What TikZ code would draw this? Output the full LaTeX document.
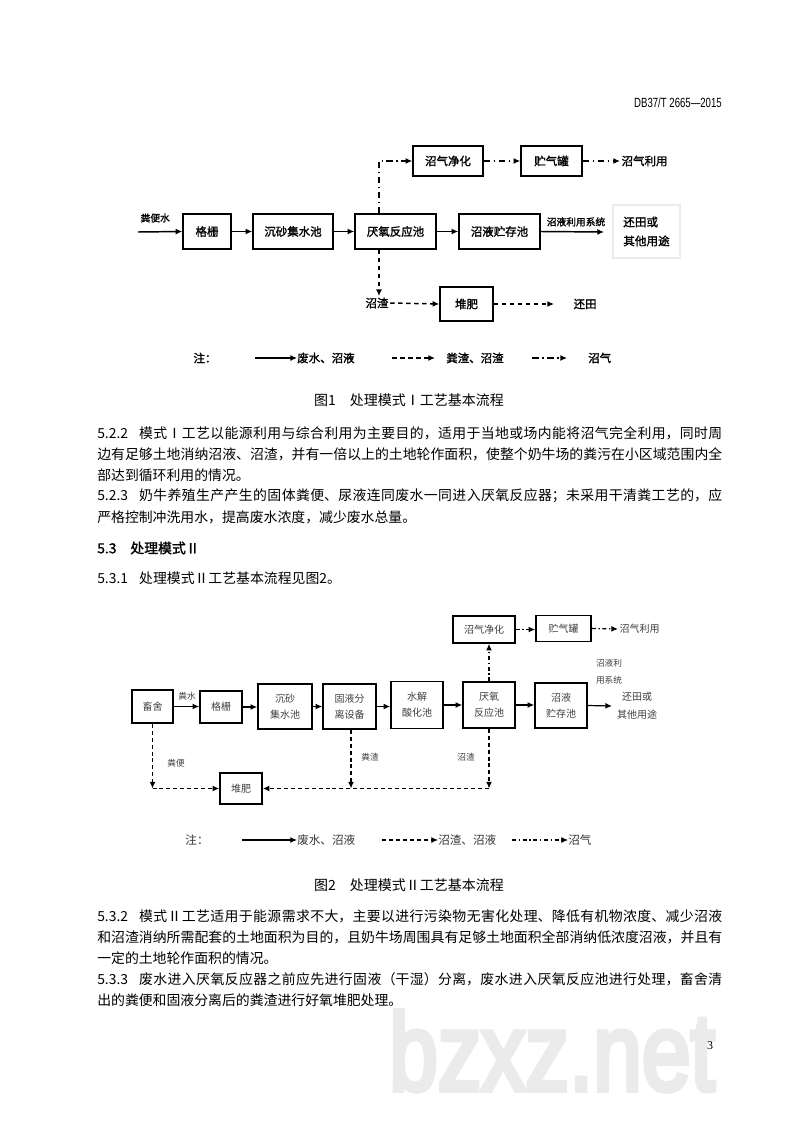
\documentclass[tikz,border=0pt]{standalone}
\usepackage{fontspec}
\setmainfont{Noto Sans CJK SC}
\newfontfamily\cjkb{Noto Sans CJK SC}[FakeBold=1.5]
\newfontfamily\latf{Liberation Sans}
\newfontfamily\wmf{Liberation Sans}[FakeBold=5]
\newfontfamily\serf{Liberation Serif}
\usetikzlibrary{arrows.meta}
\XeTeXlinebreaklocale "zh"
\XeTeXlinebreakskip=0pt plus 3pt minus 0.3pt
\newcommand\fl[1]{\noindent\parfillskip=0pt #1\par}
\definecolor{wm}{gray}{0.92}
\tikzset{
  b1/.style n args={2}{draw, line width=1.1pt, minimum width=#1*0.75pt, minimum height=#2*0.75pt, inner sep=0pt, font=\cjkb\fontsize{8.6}{10}\selectfont},
  b2/.style n args={2}{draw, line width=1.2pt, minimum width=#1*0.75pt, minimum height=#2*0.75pt, inner sep=0pt, align=center, text=black!75, font=\fontsize{7.5}{12}\selectfont},
  t1/.style={inner sep=1pt, font=\cjkb\fontsize{8.6}{10}\selectfont},
  s1/.style={inner sep=1pt, font=\cjkb\fontsize{7.3}{9}\selectfont},
  t2/.style={inner sep=1pt, text=black!75, font=\fontsize{7.5}{12}\selectfont},
  s2/.style={inner sep=1pt, text=black!75, font=\fontsize{6.5}{13}\selectfont},
  lg2/.style={inner sep=1pt, text=black!80, font=\fontsize{8.7}{10}\selectfont},
  wA/.style={line width=1.1pt, -{Latex[length=5pt,width=4.5pt]}},
  dA/.style={wA, dash pattern=on 3.5pt off 2.5pt},
  gA/.style={wA, dash pattern=on 5pt off 2.5pt on 1.2pt off 2.5pt},
  wB/.style={line width=0.9pt, -{Latex[length=5pt,width=4.5pt]}},
  dB/.style={wB, line width=1pt, dash pattern=on 3pt off 2.2pt},
  gB/.style={wB, dash pattern=on 3pt off 2pt on 1pt off 2pt},
  para/.style={anchor=west, text width=468.75pt, inner sep=0pt, align=justify, font=\fontsize{10.4}{12}\selectfont},
  pl/.style={anchor=west, inner sep=0pt, font=\fontsize{10.4}{12}\selectfont},
  figcap/.style={inner sep=0pt, font=\fontsize{10.5}{12}\selectfont}
}
\begin{document}
\begin{tikzpicture}[x=0.75pt,y=-0.75pt]
\useasboundingbox[fill=white] (0,0) rectangle (800,1131);

% watermark and page number
\node[anchor=base, inner sep=0, text=wm] (wmark) at (552,1090) {\scalebox{0.8}[1]{\wmf\fontsize{82}{90}\selectfont bzxz.net}};
\node[inner sep=0] (pageno) at (710,1046) {\serf\fontsize{9}{10}\selectfont 3};

% header
\node[anchor=east, inner sep=0] (hdr) at (722,103) {\scalebox{0.72}[1]{\latf\fontsize{10}{12}\selectfont DB37/T 2665—2015}};

% ---------------- Figure 1 ----------------
\node[b1={48}{35}] (grate) at (207,231.5) {格栅};
\node[b1={80}{35}] (sand) at (293,231.5) {沉砂集水池};
\node[b1={81}{35}] (anA) at (395.5,231.5) {厌氧反应池};
\node[b1={81}{35}] (storeA) at (499.5,231.5) {沼液贮存池};
\node[b1={70}{30}] (puriA) at (448,161) {沼气净化};
\node[b1={61}{30}] (tankA) at (551.5,161) {贮气罐};
\node[t1, anchor=west] (useA) at (620,161) {沼气利用};
\node[draw=black!8, line width=0.8pt, minimum width=67*0.75pt, minimum height=53*0.75pt, inner sep=0pt, align=left, font=\cjkb\fontsize{8.7}{14.25}\selectfont] (outA) at (646.5,231.5) {还田或\\其他用途};
\node[s1, anchor=west] (feedA) at (139,218) {粪便水};
\coordinate (inA) at (138,232);
\draw[wA] (inA) -- (grate.west);
\draw[wA] (grate.east) -- (sand.west);
\draw[wA] (sand.east) -- (anA.west);
\draw[wA] (anA.east) -- (storeA.west);
\coordinate (sysEnd) at (604,232);
\draw[wA] (storeA.east) -- (sysEnd);
\node[s1, anchor=south] (sysA) at (576,228) {沼液利用系统};
\coordinate (gx) at (379,161);
\draw[gA] (anA.north -| gx) |- (puriA.west);
\draw[gA] (puriA.east) -- (tankA.west);
\draw[gA] (tankA.east) -- (useA.west);
\node[t1] (resA) at (377,303) {沼渣};
\draw[dA] (anA.south -| gx) -- (gx |- resA.north);
\node[b1={53}{34}] (compA) at (466.5,304) {堆肥};
\draw[dA] (resA.east) -- (compA.west);
\node[t1, anchor=west] (fieldA) at (572,304) {还田};
\coordinate (fieldEnd) at (554,304);
\draw[dA] (compA.east) -- (fieldEnd);

% legend 1
\node[t1] (noteA) at (205,358) {注：};
\coordinate (l1s) at (255,358);
\node[t1, anchor=west, inner sep=0pt] (l1t) at (297,358) {废水、沼液};
\draw[wA, line width=0.8pt] (l1s) -- (l1t.west);
\coordinate (l2s) at (392,358);
\coordinate (l2e) at (435,358);
\node[t1, anchor=west, inner sep=0pt] (l2t) at (446,358) {粪渣、沼渣};
\draw[dA] (l2s) -- (l2e);
\coordinate (l3s) at (532,358);
\coordinate (l3e) at (567,358);
\node[t1, anchor=west, inner sep=0pt] (l3t) at (588,358) {沼气};
\draw[gA] (l3s) -- (l3e);

\node[figcap] (capA) at (409,400) {图1\hspace{1em}处理模式Ⅰ工艺基本流程};

% ---------------- body text 5.2.2 ... 5.3.1 ----------------
\node[para] (p1) at (97,433) {\fl{5.2.2\hspace{0.8em}模式Ⅰ工艺以能源利用与综合利用为主要目的，适用于当地或场内能将沼气完全利用，同时周}};
\node[para] (p2) at (97,454) {\fl{边有足够土地消纳沼液、沼渣，并有一倍以上的土地轮作面积，使整个奶牛场的粪污在小区域范围内全}};
\node[pl] (p3) at (97,475) {部达到循环利用的情况。};
\node[para] (p4) at (97,496) {\fl{5.2.3\hspace{0.8em}奶牛养殖生产产生的固体粪便、尿液连同废水一同进入厌氧反应器；未采用干清粪工艺的，应}};
\node[pl] (p5) at (97,517) {严格控制冲洗用水，提高废水浓度，减少废水总量。};
\node[pl, font=\cjkb\fontsize{10.4}{12}\selectfont] (p6) at (97,548) {5.3\hspace{1em}处理模式Ⅱ};
\node[pl] (p7) at (97,578) {5.3.1\hspace{0.8em}处理模式Ⅱ工艺基本流程见图2。};

% ---------------- Figure 2 ----------------
\node[b2={41}{33}] (shed) at (152.5,706.5) {畜舍};
\node[b2={42}{32}] (grateB) at (221,707) {格栅};
\node[b2={54}{45}] (sandB) at (285,706.5) {沉砂\\集水池};
\node[b2={53}{45}] (sep) at (349.5,706.5) {固液分\\离设备};
\node[b2={52}{47}] (hyd) at (417,705) {水解\\酸化池};
\node[b2={52}{46}] (anB) at (489,705) {厌氧\\反应池};
\node[b2={52}{45}] (storeB) at (561,705.5) {沼液\\贮存池};
\node[b2={62}{27}] (puriB) at (484,629.5) {沼气净化};
\node[b2={55}{26}] (tankB) at (563.5,628.5) {贮气罐};
\node[t2, anchor=west] (useB) at (618,629) {沼气利用};
\node[t2, align=center, font=\fontsize{7.5}{13.5}\selectfont] (outB) at (637,706) {还田或\\其他用途};
\node[s2, align=center] (sysB) at (609,672) {沼液利\\用系统};
\node[s2] (feedB) at (187,696) {粪水};
\node[b2={42}{31}] (compB) at (241,788.5) {堆肥};

\draw[wB] (shed.east) -- (shed.east -| grateB.west);
\draw[wB] (grateB.east) -- (grateB.east -| sandB.west);
\draw[wB] (sandB.east) -- (sandB.east -| sep.west);
\draw[wB] (sep.east) -- (sep.east -| hyd.west);
\draw[wB] (hyd.east) -- (hyd.east -| anB.west);
\draw[wB] (anB.east) -- (anB.east -| storeB.west);
\coordinate (outEnd) at (612,706);
\draw[wB] (storeB.east) -- (outEnd);

\draw[gB] (anB.north) -- (anB.north |- puriB.south);
\draw[gB] (puriB.east) -- (puriB.east -| tankB.west);
\draw[gB] (tankB.east) -- (useB.west);

\coordinate (j0) at (152.5,788.5);
\coordinate (j2) at (351,788.5);
\coordinate (j1) at (489,788.5);
\draw[dB] (shed.south) -- (j0);
\draw[dB] (j0) -- (compB.west);
\draw[dB] (sep.south -| j2) -- (j2);
\draw[dB] (anB.south) -- (j1);
\draw[dB] (j1) -- (compB.east);
\node[s2] (lbl1) at (176,763) {粪便};
\node[s2] (lbl2) at (370,757) {粪渣};
\node[s2] (lbl3) at (466,757) {沼渣};

% legend 2
\node[lg2] (noteB) at (197,840) {注：};
\coordinate (m1s) at (242,840);
\node[lg2, anchor=west, inner sep=0pt] (m1t) at (297,840) {废水、沼液};
\draw[wB] (m1s) -- (m1t.west);
\coordinate (m2s) at (382,840);
\node[lg2, anchor=west, inner sep=0pt] (m2t) at (438,840) {沼渣、沼液};
\draw[dB, line width=0.8pt] (m2s) -- (m2t.west);
\coordinate (m3s) at (512,840);
\node[lg2, anchor=west, inner sep=0pt] (m3t) at (568,840) {沼气};
\draw[gB, line width=0.8pt] (m3s) -- (m3t.west);

\node[figcap] (capB) at (409,885) {图2\hspace{1em}处理模式Ⅱ工艺基本流程};

% ---------------- body text 5.3.2, 5.3.3 ----------------
\node[para] (q1) at (97,916) {\fl{5.3.2\hspace{0.8em}模式Ⅱ工艺适用于能源需求不大，主要以进行污染物无害化处理、降低有机物浓度、减少沼液}};
\node[para] (q2) at (97,937) {\fl{和沼渣消纳所需配套的土地面积为目的，且奶牛场周围具有足够土地面积全部消纳低浓度沼液，并且有}};
\node[pl] (q3) at (97,958) {一定的土地轮作面积的情况。};
\node[para] (q4) at (97,979) {\fl{5.3.3\hspace{0.8em}废水进入厌氧反应器之前应先进行固液（干湿）分离，废水进入厌氧反应池进行处理，畜舍清}};
\node[pl] (q5) at (97,1000) {出的粪便和固液分离后的粪渣进行好氧堆肥处理。};
\end{tikzpicture}
\end{document}
